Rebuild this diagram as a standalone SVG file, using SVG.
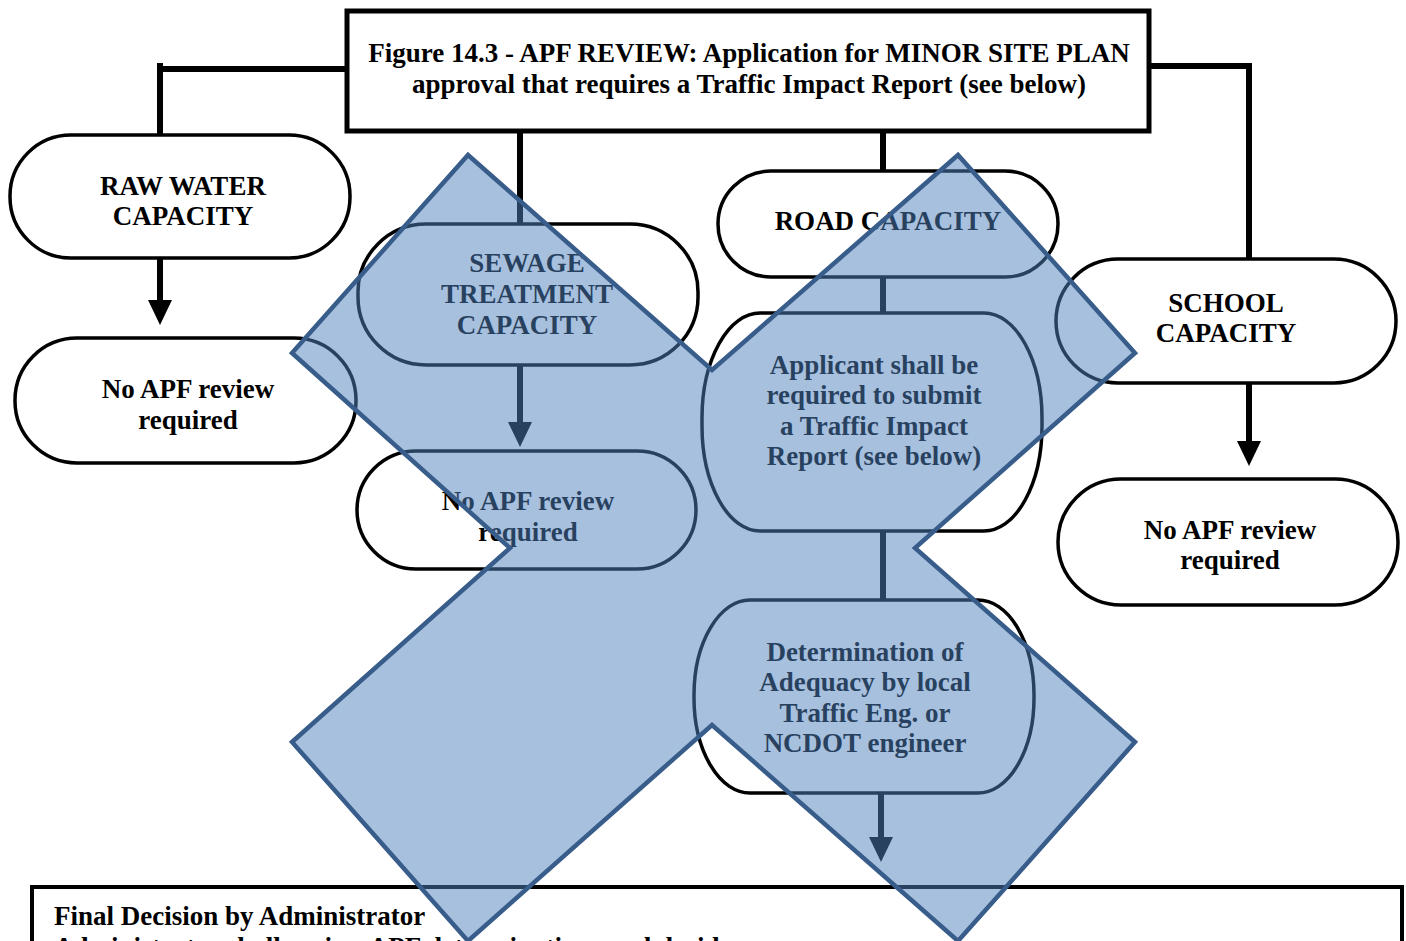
<svg xmlns="http://www.w3.org/2000/svg" width="1406" height="941" viewBox="0 0 1406 941">
<defs>
<style>
.t{font-family:"Liberation Serif","Times New Roman",serif;font-weight:bold;font-size:27px;fill:#000;text-anchor:middle}
.tl{text-anchor:start}
.n{fill:#fff;stroke:#000;stroke-width:3.5}
.c{fill:none;stroke:#000;stroke-width:6}
.ov{fill:#4F81BD;fill-opacity:0.5;stroke:#385D8A;stroke-width:4.5;stroke-linejoin:miter}
</style>
</defs>
<rect width="1406" height="941" fill="#fff"/>

<g id="connectors">
<polyline class="c" points="347,69 160,69 160,135"/>
<line class="c" x1="160" y1="63" x2="160" y2="72"/>
<line class="c" x1="520" y1="131" x2="520" y2="224"/>
<line class="c" x1="883" y1="131" x2="883" y2="171"/>
<polyline class="c" points="1149,66 1249,66 1249,259"/>
<path class="c" d="M160,258 L160,300"/>
<path d="M148,300 L172,300 L160,325 Z" fill="#000"/>
<path class="c" d="M520,365 L520,422"/>
<path d="M508,422 L532,422 L520,447 Z" fill="#000"/>
<line class="c" x1="883" y1="277" x2="883" y2="313"/>
<line class="c" x1="883" y1="531" x2="883" y2="600"/>
<path class="c" d="M881,793 L881,837"/>
<path d="M869,837 L893,837 L881,862 Z" fill="#000"/>
<path class="c" d="M1249,383 L1249,441"/>
<path d="M1237,441 L1261,441 L1249,466 Z" fill="#000"/>
</g>

<g id="title">
<rect x="347" y="11" width="802" height="120" fill="#fff" stroke="#000" stroke-width="5"/>
<text class="t" x="749" y="62">Figure 14.3 - APF REVIEW: Application for MINOR SITE PLAN</text>
<text class="t" x="749" y="93">approval that requires a Traffic Impact Report (see below)</text>
</g>

<g id="raw-water">
<rect class="n" x="10" y="135" width="340" height="123" rx="61" ry="61"/>
<text class="t" x="183" y="195">RAW WATER</text>
<text class="t" x="183" y="225">CAPACITY</text>
</g>

<g id="no-apf-left">
<rect class="n" x="15" y="338" width="341" height="125" rx="62" ry="62"/>
<text class="t" x="188" y="398">No APF review</text>
<text class="t" x="188" y="429">required</text>
</g>

<g id="sewage">
<rect class="n" x="358" y="224" width="340" height="141" rx="68" ry="68"/>
<text class="t" x="527" y="272">SEWAGE</text>
<text class="t" x="527" y="303">TREATMENT</text>
<text class="t" x="527" y="334">CAPACITY</text>
</g>

<g id="no-apf-mid">
<rect class="n" x="357" y="451" width="339" height="118" rx="59" ry="59"/>
<text class="t" x="528" y="510">No APF review</text>
<text class="t" x="528" y="541">required</text>
</g>

<g id="road">
<rect class="n" x="718" y="171" width="340" height="106" rx="53" ry="53"/>
<text class="t" x="888" y="230">ROAD CAPACITY</text>
</g>

<g id="applicant">
<rect class="n" x="702" y="313" width="340" height="218" rx="58" ry="105"/>
<text class="t" x="874" y="374">Applicant shall be</text>
<text class="t" x="874" y="404">required to submit</text>
<text class="t" x="874" y="435">a Traffic Impact</text>
<text class="t" x="874" y="465">Report (see below)</text>
</g>

<g id="determination">
<rect class="n" x="694" y="600" width="340" height="193" rx="56" ry="95"/>
<text class="t" x="865" y="661">Determination of</text>
<text class="t" x="865" y="691">Adequacy by local</text>
<text class="t" x="865" y="722">Traffic Eng. or</text>
<text class="t" x="865" y="752">NCDOT engineer</text>
</g>

<g id="school">
<rect class="n" x="1056" y="259" width="340" height="124" rx="62" ry="62"/>
<text class="t" x="1226" y="312">SCHOOL</text>
<text class="t" x="1226" y="342">CAPACITY</text>
</g>

<g id="no-apf-right">
<rect class="n" x="1058" y="479" width="340" height="126" rx="63" ry="63"/>
<text class="t" x="1230" y="539">No APF review</text>
<text class="t" x="1230" y="569">required</text>
</g>

<g id="final-decision">
<rect x="32" y="887" width="1370" height="80" fill="#fff" stroke="#000" stroke-width="4"/>
<text class="t tl" x="54" y="925">Final Decision by Administrator</text>
<text class="t tl" x="54" y="956">Administrator shall review APF determinations and decide</text>
</g>

<g id="overlay-x">
<polygon class="ov" points="468,155 712,370 958,155 1135,353 915,548 1135,742 958,941 712,725 468,941 292,742 510,548 292,353"/>
</g>
</svg>
